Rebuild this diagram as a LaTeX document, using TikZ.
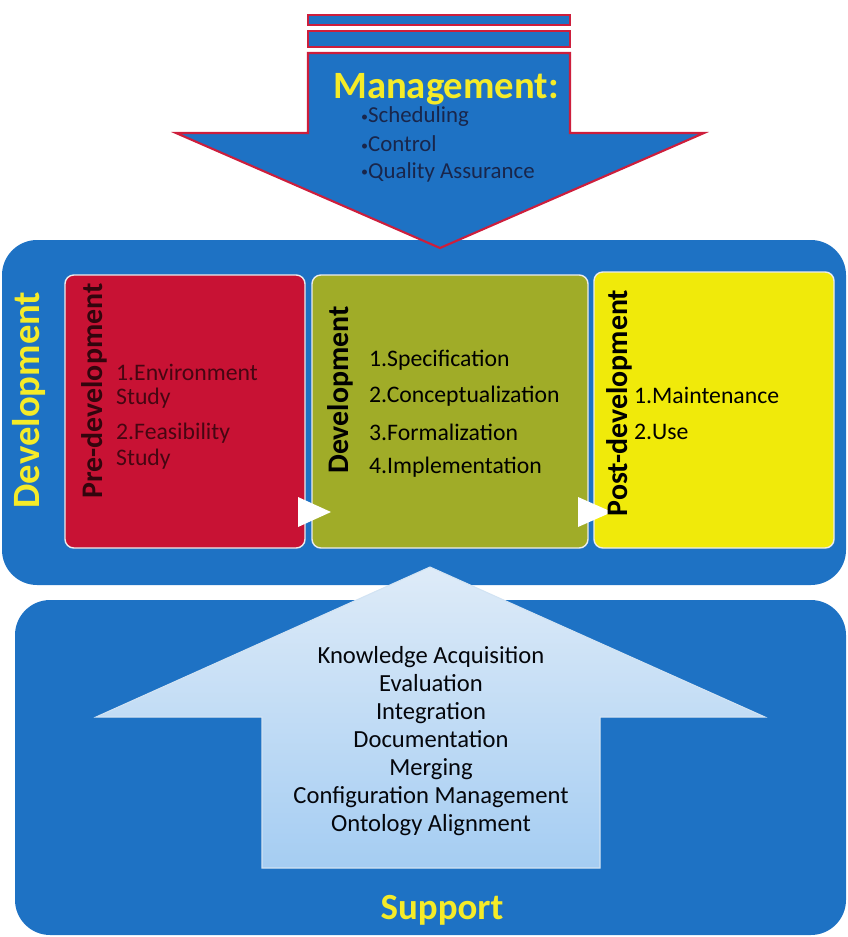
\documentclass[tikz,border=0pt]{standalone}
\usepackage{fontspec}
\setmainfont{Carlito}
\usetikzlibrary{positioning}
\definecolor{panelblue}{RGB}{30,114,196}
\definecolor{mgmtred}{RGB}{205,30,60}
\definecolor{preRed}{RGB}{200,18,52}
\definecolor{devOlive}{RGB}{160,172,40}
\definecolor{postYellow}{RGB}{240,234,10}
\definecolor{titleYellow}{RGB}{245,235,40}
\definecolor{navyText}{RGB}{25,38,75}
\definecolor{arrowTop}{RGB}{222,235,248}
\definecolor{arrowBottom}{RGB}{165,205,242}
\newcommand{\smallbullet}{{\fontsize{8}{8}\selectfont\raisebox{0.25ex}{•}}}

\begin{document}
\begin{tikzpicture}[x=0.02cm,y=-0.02cm,
	panel/.style={fill=panelblue,rounded corners=20pt},
	phase/.style={draw=white!85!gray,line width=0.8pt,rounded corners=5pt},
	title/.style={text=titleYellow,font=\bfseries\fontsize{22}{26}\selectfont},
	mgmtitem/.style={anchor=west,text=navyText,font=\fontsize{13}{15}\selectfont},
	phasetitle/.style={rotate=90,font=\bfseries\fontsize{17}{20}\selectfont},
	phaseitem/.style={anchor=west,font=\fontsize{13.5}{16}\selectfont}]
	\useasboundingbox (0,0) rectangle (848,937);

	% panels
	\fill[panel] (2,240) rectangle (846,585);
	\fill[panel] (15,600) rectangle (846,935);

	% management arrow
	\draw[mgmtred,fill=panelblue,line width=1.2pt] (308,15) rectangle (570,25);
	\draw[mgmtred,fill=panelblue,line width=1.2pt] (308,31) rectangle (570,47);
	\draw[mgmtred,fill=panelblue,line width=1.2pt,line join=miter]
		(308,53) -- (570,53) -- (570,133) -- (704,133) -- (440,248) -- (176,133) -- (308,133) -- cycle;
	\node[title] (mgmt) at (446,89) {Management:};
	\node[mgmtitem] (sched) at (355,117) {\smallbullet Scheduling};
	\node[mgmtitem] (ctrl) at (355,144) {\smallbullet Control};
	\node[mgmtitem] (qa) at (355,172) {\smallbullet Quality Assurance};

	% phases
	\draw[phase,fill=preRed] (65,275) rectangle (305,548);
	\draw[phase,fill=devOlive] (312,275) rectangle (588,548);
	\draw[phase,fill=postYellow] (594,272) rectangle (834,548);
	\fill[white] (298,497) -- (331,512) -- (298,527) -- cycle;
	\fill[white] (578,497) -- (612,512) -- (578,527) -- cycle;

	\node[title,rotate=90] (devlabel) at (29,400) {Development};

	\node[phasetitle,text=black!75!preRed] (pre) at (94,391) {Pre-development};
	\node[phaseitem,text=black!65!preRed] (env) at (110,372) {1.Environment};
	\node[phaseitem,text=black!65!preRed] (envs) at (110,398) {Study};
	\node[phaseitem,text=black!65!preRed] (feas) at (110,433) {2.Feasibility};
	\node[phaseitem,text=black!65!preRed] (feass) at (110,459) {Study};

	\node[phasetitle] (dev) at (340,390) {Development};
	\node[phaseitem] (spec) at (363,360) {1.Specification};
	\node[phaseitem] (conc) at (363,396) {2.Conceptualization};
	\node[phaseitem] (form) at (363,432) {3.Formalization};
	\node[phaseitem] (impl) at (363,467) {4.Implementation};

	\node[phasetitle] (post) at (619,403) {Post-development};
	\node[phaseitem] (maint) at (628,395) {1.Maintenance};
	\node[phaseitem] (use) at (628,432) {2.Use};

	% support arrow
	\draw[white!80!panelblue,line width=0.6pt,top color=arrowTop,bottom color=arrowBottom]
		(430,567) -- (765,717) -- (600,717) -- (600,868) -- (262,868) -- (262,717) -- (96,717) -- cycle;
	\node[align=center,text=black!85!navyText,font=\fontsize{14}{15.9}\selectfont] (tasks) at (431,741)
		{Knowledge Acquisition\\Evaluation\\Integration\\Documentation\\Merging\\Configuration Management\\Ontology Alignment};
	\node[title,font=\bfseries\fontsize{21}{25}\selectfont] (support) at (442,910) {Support};
\end{tikzpicture}
\end{document}
